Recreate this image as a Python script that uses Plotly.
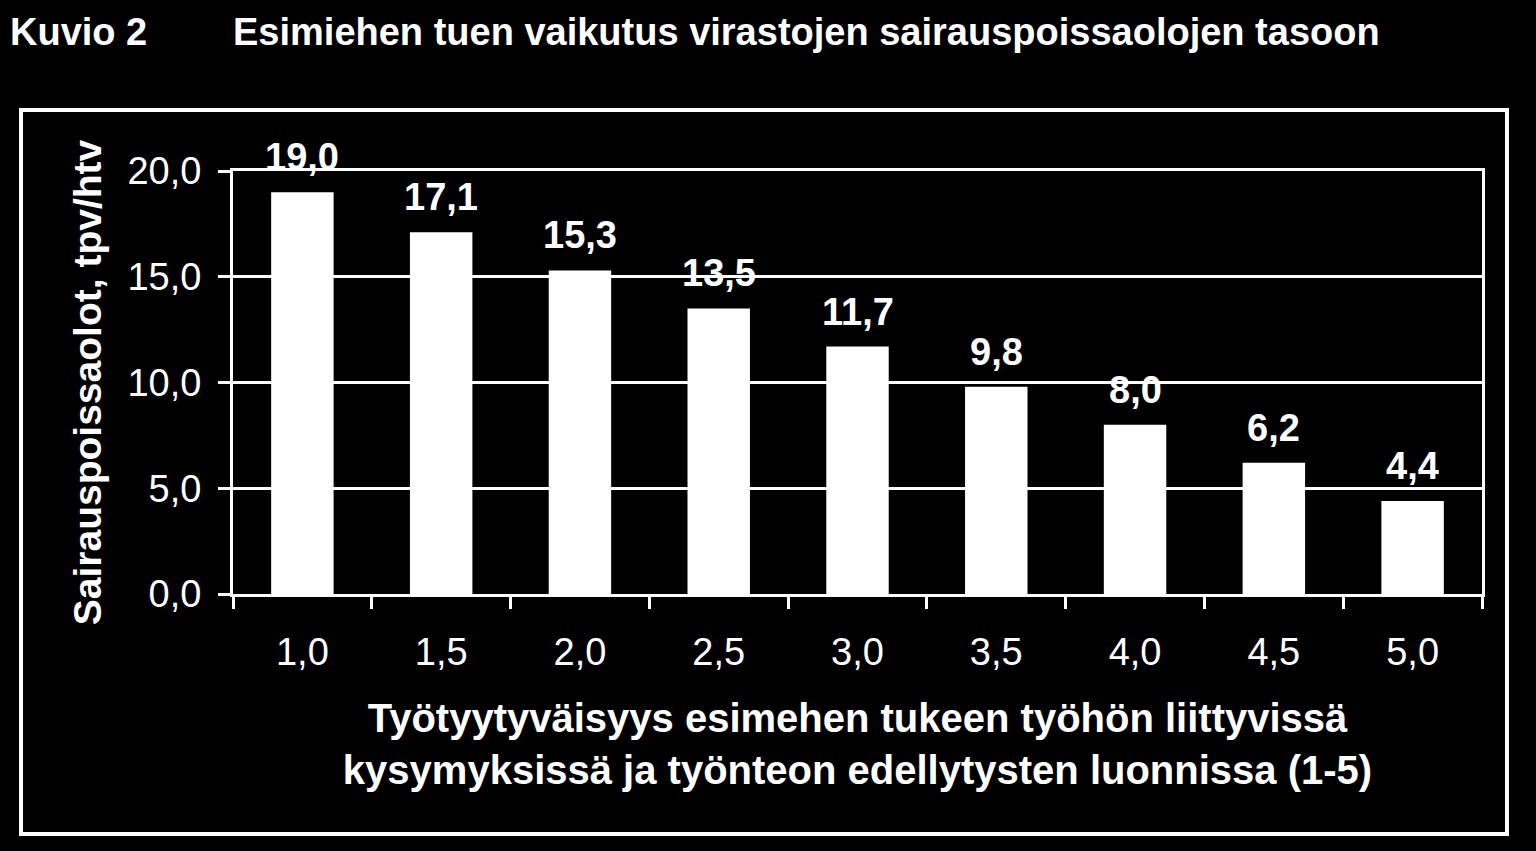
import plotly.graph_objects as go

# ---- data ----
categories = ["1,0", "1,5", "2,0", "2,5", "3,0", "3,5", "4,0", "4,5", "5,0"]
values = [19.0, 17.1, 15.3, 13.5, 11.7, 9.8, 8.0, 6.2, 4.4]
y_ticks = [0, 5, 10, 15, 20]

title_label = "Kuvio 2"
title_text = "Esimiehen tuen vaikutus virastojen sairauspoissaolojen tasoon"
x_title = "Työtyytyväisyys esimehen tukeen työhön liittyvissä<br>kysymyksissä ja työnteon edellytysten luonnissa (1-5)"
y_title = "Sairauspoissaolot, tpv/htv"

FONT = "Liberation Sans, Arial, sans-serif"
WHITE = "#ffffff"
BLACK = "#000000"

W, H = 1536, 851
ML, MR, MT, MB = 233, 54, 171, 257
PW = W - ML - MR
PH = H - MT - MB


def px_x(px):
    return (px - ML) / PW


def px_y(py):
    return (H - MB - py) / PH


fig = go.Figure()
fig.add_trace(go.Bar(
    x=categories,
    y=values,
    marker=dict(color=WHITE, line=dict(width=0)),
    width=0.45,
    hoverinfo="x+y",
    showlegend=False,
))

# value labels above bars
for c, v in zip(categories, values):
    fig.add_annotation(
        x=c, y=v, xref="x", yref="y",
        text=f"{v:.1f}".replace(".", ","),
        showarrow=False, yanchor="bottom", xanchor="center",
        yshift=12,
        font=dict(family=FONT, size=38, color=WHITE, weight="bold"),
    )

# chart label
fig.add_annotation(
    x=px_x(8), y=px_y(32), xref="paper", yref="paper",
    text=title_label, showarrow=False, xanchor="left", yanchor="middle",
    font=dict(family=FONT, size=38, color=WHITE, weight="bold"),
)

# outer frame
fig.add_shape(
    type="rect", xref="paper", yref="paper",
    x0=px_x(21), x1=px_x(1507), y0=px_y(834), y1=px_y(110),
    line=dict(color=WHITE, width=4), fillcolor="rgba(0,0,0,0)", layer="below",
)

fig.update_layout(
    width=W, height=H,
    autosize=False,
    paper_bgcolor=BLACK,
    plot_bgcolor=BLACK,
    separators=", ",
    margin=dict(l=ML, r=MR, t=MT, b=MB, autoexpand=False),
    font=dict(family=FONT, color=WHITE),
    title=dict(
        text=title_text, x=ML / W, xanchor="left", xref="container",
        y=1 - 32 / H, yanchor="middle", yref="container",
        font=dict(family=FONT, size=38, color=WHITE, weight="bold"),
    ),
)

fig.update_xaxes(
    type="category",
    tickson="boundaries",
    ticks="outside", ticklen=12, tickwidth=3, tickcolor=WHITE,
    showline=True, linecolor=WHITE, linewidth=3, mirror=True,
    showgrid=False,
    tickfont=dict(family=FONT, size=38, color=WHITE),
    ticklabelstandoff=22,
    title=dict(text=x_title, standoff=33,
               font=dict(family=FONT, size=40, color=WHITE, weight="bold")),
    automargin=False,
)

fig.update_yaxes(
    range=[0, 20],
    tickvals=y_ticks,
    tickformat=".1f",
    ticks="outside", ticklen=12, tickwidth=3, tickcolor=WHITE,
    showline=True, linecolor=WHITE, linewidth=3, mirror=True,
    showgrid=True, gridcolor=WHITE, gridwidth=3,
    zeroline=False,
    tickfont=dict(family=FONT, size=38, color=WHITE),
    ticklabelstandoff=9,
    title=dict(text=y_title, standoff=14,
               font=dict(family=FONT, size=39, color=WHITE, weight="bold")),
    automargin=False,
)

fig.write_html(
    "out.html",
    config={"displayModeBar": False},
    post_script="document.body.style.margin='0';document.body.style.background='#000';",
)
